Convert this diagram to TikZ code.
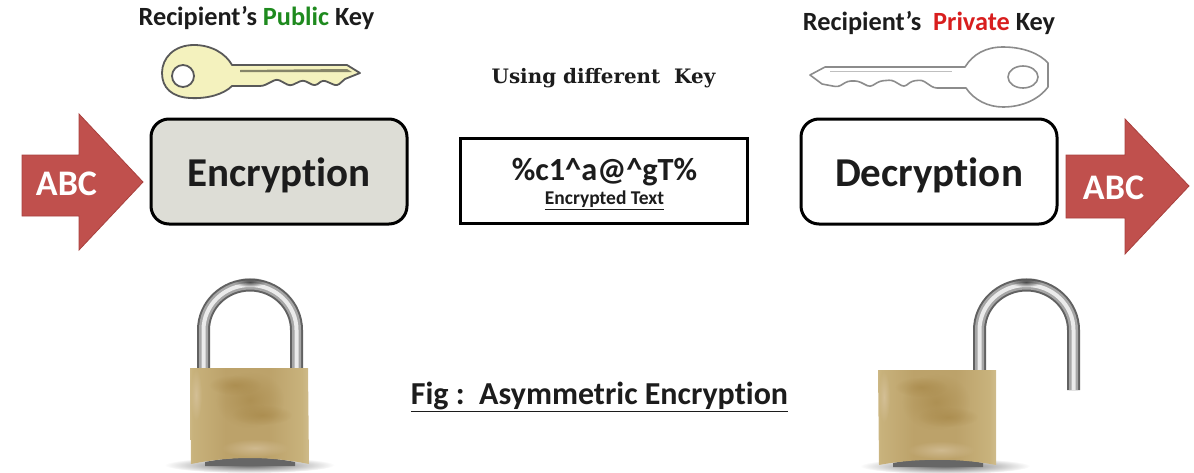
\documentclass[tikz,border=0pt]{standalone}
\usepackage{fontspec}
\setmainfont[Ligatures=NoCommon]{Carlito}
\newfontfamily\slabfont{DejaVu Serif}
\usetikzlibrary{fadings}
\definecolor{arrowred}{HTML}{C0504D}
\definecolor{arrowedge}{HTML}{A8403D}
\definecolor{pubgreen}{HTML}{1E8A1E}
\definecolor{privred}{HTML}{D81E1E}
\definecolor{keyfill}{HTML}{F4F2BE}
\definecolor{boxgrey}{HTML}{DDDDD6}
\definecolor{textdark}{HTML}{1C1C1C}
\definecolor{brA}{HTML}{C2AE72}
\definecolor{brB}{HTML}{E6D9BC}
\definecolor{brC}{HTML}{C8B27C}
\definecolor{brD}{HTML}{BCA26A}
\definecolor{brE}{HTML}{A8894A}
\definecolor{brF}{HTML}{DCC9A8}
\pgfdeclarehorizontalshading{brass}{100bp}{
 color(0bp)=(brA); color(12bp)=(brA); color(18bp)=(brB);
 color(26bp)=(brC); color(40bp)=(brD); color(58bp)=(brD);
 color(72bp)=(brC); color(84bp)=(brB); color(92bp)=(brC); color(100bp)=(brA)}
\tikzfading[name=fuzzy,inner color=transparent!0,outer color=transparent!100]
\tikzset{
 x=1pt,y=-1pt,
 bigbox/.style={draw=black,line width=3pt,rounded corners=18pt,minimum width=256pt,minimum height=105pt,inner sep=0pt,
   font=\fontsize{41}{41}\selectfont\bfseries,text=textdark},
 midbox/.style={draw=black,line width=3pt,minimum width=287pt,minimum height=85pt,inner sep=0pt},
 arrowshape/.style={fill=arrowred,draw=arrowedge,line width=0.8pt},
 arrowlabel/.style={text=white,font=\fontsize{36}{36}\selectfont\bfseries,inner sep=0pt},
 keylabel/.style={font=\fontsize{26.3}{28}\selectfont\bfseries,text=textdark,inner sep=0pt},
 pubkey/.style={fill=keyfill,draw=black!65,line width=1.8pt,line join=round},
 privkey/.style={fill=white,draw=black!45,line width=1.6pt,line join=round},
 brassbody/.style={shading=brass,draw=none},
 blotch/.style={fill=brE,path fading=fuzzy,fill opacity=0.7,draw=none},
 pinkblotch/.style={fill=brF,path fading=fuzzy,fill opacity=0.6,draw=none},
 shackleA/.style={line width=13pt,draw=black!62},
 shackleB/.style={line width=9pt,draw=black!35},
 shackleC/.style={line width=4pt,draw=white!92!black},
 shadow/.style={fill=black!60,path fading=fuzzy,draw=none},
 shadowcore/.style={fill=black!60,draw=none},
}
\begin{document}
\begin{tikzpicture}
\useasboundingbox (0,0) rectangle (1194,472);
% ---- arrows
\path[arrowshape] (22,155) -- (79,155) -- (79,114) -- (143,182) -- (79,250) -- (79,216) -- (22,216) -- cycle;
\path[arrowshape] (1066,155) -- (1125,155) -- (1125,119) -- (1189,186) -- (1125,254) -- (1125,218) -- (1066,218) -- cycle;
\node[arrowlabel] (abcL) at (66.5,184) {ABC};
\node[arrowlabel] (abcR) at (1113.5,188) {ABC};
% ---- boxes
\node[bigbox,fill=boxgrey] (enc) at (279,171.5) {\raisebox{-14.5pt}[0pt][0pt]{Encryption}};
\node[bigbox,fill=white] (dec) at (929,171.5) {\raisebox{-14.5pt}[0pt][0pt]{Decryption}};
\node[midbox] (mid) at (603.5,180.5) {};
\node[inner sep=0pt,text=textdark,font=\fontsize{32.3}{32}\selectfont\bfseries] (cipher) at (604.5,172) {\%c1\^{}a@\^{}gT\%};
\node[inner sep=0pt,text=textdark,font=\fontsize{19.5}{20}\selectfont\bfseries] (cipherlab) at (604.5,200) {\underline{Encrypted Text}};
% ---- labels
\node[keylabel] (pubL) at (256.5,18) {Recipient’s\ \textcolor{pubgreen}{Public} Key};
\node[keylabel] (privL) at (929,23) {Recipient’s\ \ \textcolor{privred}{Private} Key};
\node[inner sep=0pt,text=textdark,font=\slabfont\fontsize{19.9}{20}\selectfont\bfseries] (using) at (603.5,78) {Using different\ \ Key};
\node[inner sep=0pt,text=textdark,font=\fontsize{32}{33}\selectfont\bfseries] (figcap) at (599.5,397) {\underline{Fig :\ \ Asymmetric Encryption}};
% ---- public key
\draw[pubkey,even odd rule] (232,65) -- (347,65) -- (360,73) -- (345,79) [rounded corners=3pt] -- (337,86) -- (323,80) -- (315,86) -- (303,80) -- (290,86) -- (277,79) -- (263,86) [sharp corners] -- (232,86)
  .. controls (224,94) and (208,99) .. (190,98) .. controls (172,97) and (162,88) .. (162,73)
  .. controls (162,58) and (174,45) .. (194,45) .. controls (212,45) and (226,54) .. (232,65) -- cycle
  (183,76) circle [radius=11];
\fill[black!45!keyfill] (240,70) -- (347,69) -- (352,72) -- (240,72) -- cycle;
% ---- private key
\draw[privkey,even odd rule] (965,67) -- (825,67) -- (810,75) -- (822,84) [rounded corners=3pt] -- (838,87) -- (848,81) -- (858,81) -- (870,87) -- (880,81) -- (892,80) -- (904,87) -- (912,81) -- (922,80) -- (934,88) [sharp corners] -- (966,88)
  .. controls (974,100) and (988,107) .. (1003,107) .. controls (1024,107) and (1040,98) .. (1048,87)
  -- (1048,63) .. controls (1040,54) and (1024,47) .. (1003,47) .. controls (986,47) and (973,54) .. (965,67) -- cycle
  (1023,77) ellipse [x radius=15,y radius=11];
\draw[black!25,line width=1pt] (830,71) -- (952,71);
% ---- closed lock
\fill[shadow] (249.5,465) ellipse [x radius=85,y radius=8];
\fill[shadowcore] (205,462) .. controls (235,456) and (265,456) .. (295,462) -- (295,466) -- (205,466) -- cycle;
\foreach \st in {shackleA,shackleB,shackleC}{
  \draw[\st] (203.5,368) -- (203.5,330) arc [start angle=180,end angle=360,x radius=46.5,y radius=45] -- (296.5,368);
}
\fill[black!70,path fading=fuzzy] (250,282) ellipse [x radius=16,y radius=5];
\path[brassbody] (190,368) -- (308,368) -- (309,464) .. controls (270,456) and (230,456) .. (191,464) -- cycle;
\fill[blotch] (250,400) ellipse [x radius=34,y radius=28];
\fill[blotch] (235,385) ellipse [x radius=26,y radius=10];
\fill[blotch] (262,415) ellipse [x radius=30,y radius=10];
\fill[pinkblotch] (255,448) ellipse [x radius=34,y radius=9];
\fill[pinkblotch] (196,395) ellipse [x radius=6,y radius=26];
% ---- open lock
\fill[shadow] (945,466) ellipse [x radius=85,y radius=8];
\fill[shadowcore] (893,463) .. controls (923,457) and (953,457) .. (983,463) -- (983,467) -- (893,467) -- cycle;
\foreach \st in {shackleA,shackleB,shackleC}{
  \draw[\st] (979.5,372) -- (979.5,330) arc [start angle=180,end angle=360,x radius=47,y radius=45] -- (1073.5,390);
}
\fill[black!70,path fading=fuzzy] (1026,282) ellipse [x radius=16,y radius=5];
\path[brassbody] (878,370) -- (996,370) -- (996,465) .. controls (960,458) and (915,458) .. (879,465) -- cycle;
\fill[blotch] (936,402) ellipse [x radius=34,y radius=28];
\fill[blotch] (921,387) ellipse [x radius=26,y radius=10];
\fill[blotch] (948,417) ellipse [x radius=30,y radius=10];
\fill[pinkblotch] (941,450) ellipse [x radius=34,y radius=9];
\fill[pinkblotch] (884,397) ellipse [x radius=6,y radius=26];
\end{tikzpicture}
\end{document}
